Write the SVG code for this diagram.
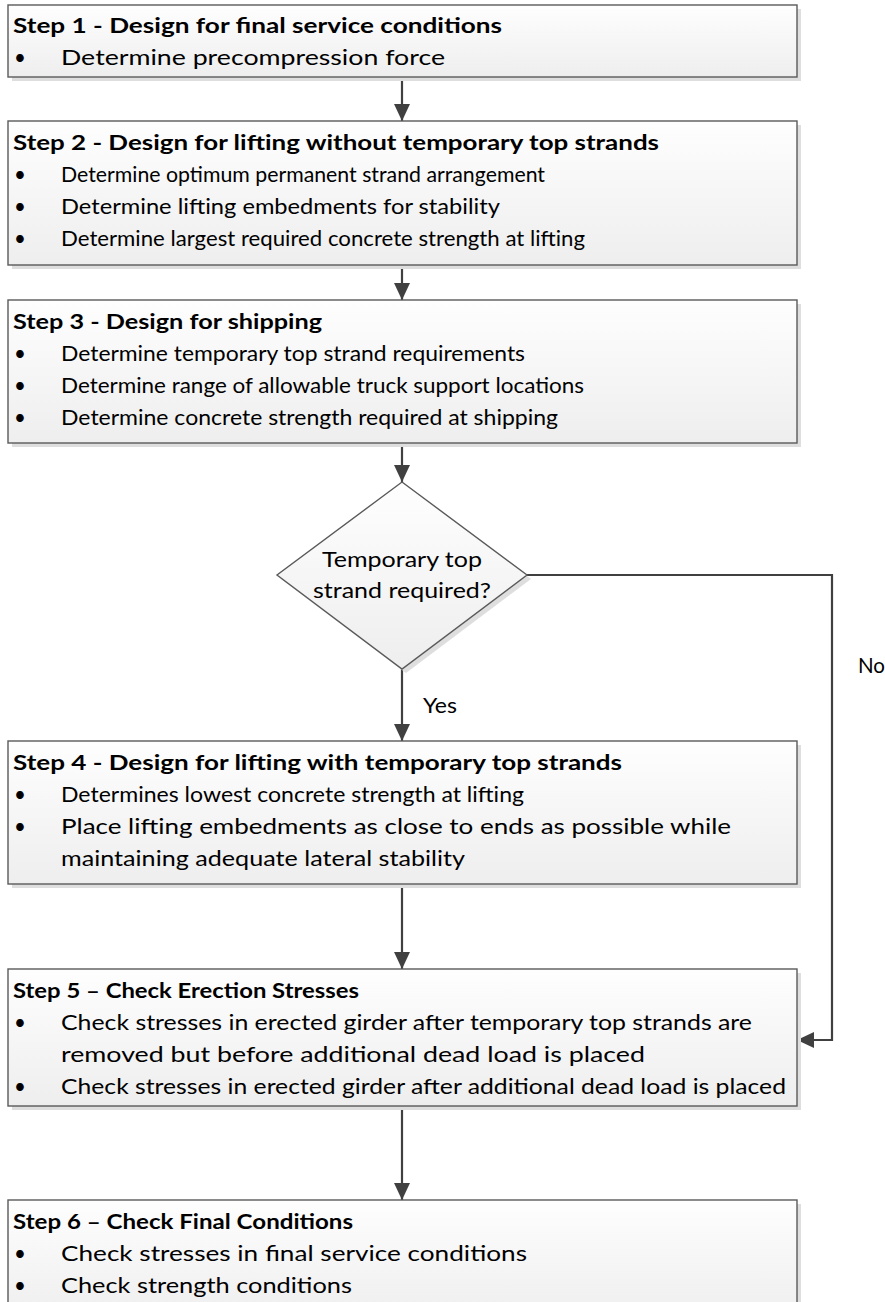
<svg xmlns="http://www.w3.org/2000/svg" width="885" height="1302" viewBox="0 0 885 1302">
<defs>
<linearGradient id="g" x1="0" y1="0" x2="0" y2="1">
<stop offset="0" stop-color="#fefefe"/>
<stop offset="1" stop-color="#eeeeee"/>
</linearGradient>
<marker id="ah" markerUnits="userSpaceOnUse" markerWidth="18" markerHeight="18" viewBox="0 0 18 18" refX="17" refY="9" orient="auto">
<path d="M0,1 L17,9 L0,17 Z" fill="#404040"/>
</marker>
</defs>
<style>
.sh{fill:#dedede}
.bx{fill:url(#g);stroke:#5a5a5a;stroke-width:1.4}
.t{font-family:Lato,"Liberation Sans",sans-serif;font-size:20.5px;fill:#000}
.b{font-weight:bold}
.c{stroke:#404040;stroke-width:2.2;fill:none}
</style>
<rect width="885" height="1302" fill="#fff"/>

<g id="connectors">
<line class="c" x1="402" y1="77" x2="402" y2="121" marker-end="url(#ah)"/>
<line class="c" x1="402" y1="265" x2="402" y2="300" marker-end="url(#ah)"/>
<line class="c" x1="402" y1="443" x2="402" y2="482" marker-end="url(#ah)"/>
<line class="c" x1="402" y1="669" x2="402" y2="741" marker-end="url(#ah)"/>
<line class="c" x1="402" y1="884" x2="402" y2="969" marker-end="url(#ah)"/>
<line class="c" x1="402" y1="1106" x2="402" y2="1200" marker-end="url(#ah)"/>
<polyline class="c" points="527,575 832,575 832,1040 797,1040" marker-end="url(#ah)"/>
<text class="t" x="423" y="713" textLength="34" lengthAdjust="spacingAndGlyphs">Yes</text>
<text class="t" x="858" y="673">No</text>
</g>

<g id="step1">
<rect class="sh" x="12" y="9" width="789" height="72"/>
<rect class="bx" x="8" y="5" width="789" height="72"/>
<text class="t b" x="13" y="33" textLength="489" lengthAdjust="spacingAndGlyphs">Step 1 - Design for final service conditions</text>
<text class="t" x="14" y="65">•</text>
<text class="t" x="61" y="65" textLength="384" lengthAdjust="spacingAndGlyphs">Determine precompression force</text>
</g>

<g id="step2">
<rect class="sh" x="12" y="125" width="789" height="144"/>
<rect class="bx" x="8" y="121" width="789" height="144"/>
<text class="t b" x="13" y="150" textLength="646" lengthAdjust="spacingAndGlyphs">Step 2 - Design for lifting without temporary top strands</text>
<text class="t" x="14" y="182">•</text>
<text class="t" x="61" y="182" textLength="484" lengthAdjust="spacingAndGlyphs">Determine optimum permanent strand arrangement</text>
<text class="t" x="14" y="214">•</text>
<text class="t" x="61" y="214" textLength="439" lengthAdjust="spacingAndGlyphs">Determine lifting embedments for stability</text>
<text class="t" x="14" y="246">•</text>
<text class="t" x="61" y="246" textLength="524" lengthAdjust="spacingAndGlyphs">Determine largest required concrete strength at lifting</text>
</g>

<g id="step3">
<rect class="sh" x="12" y="304" width="789" height="143"/>
<rect class="bx" x="8" y="300" width="789" height="143"/>
<text class="t b" x="13" y="329" textLength="309" lengthAdjust="spacingAndGlyphs">Step 3 - Design for shipping</text>
<text class="t" x="14" y="361">•</text>
<text class="t" x="61" y="361" textLength="464" lengthAdjust="spacingAndGlyphs">Determine temporary top strand requirements</text>
<text class="t" x="14" y="393">•</text>
<text class="t" x="61" y="393" textLength="523" lengthAdjust="spacingAndGlyphs">Determine range of allowable truck support locations</text>
<text class="t" x="14" y="425">•</text>
<text class="t" x="61" y="425" textLength="497" lengthAdjust="spacingAndGlyphs">Determine concrete strength required at shipping</text>
</g>

<g id="decision">
<polygon class="sh" points="406,486 531,579 406,673 281,579"/>
<polygon class="bx" points="402,482 527,575 402,669 277,575"/>
<text class="t" x="402" y="567" text-anchor="middle" textLength="160" lengthAdjust="spacingAndGlyphs">Temporary top</text>
<text class="t" x="402" y="598" text-anchor="middle" textLength="178" lengthAdjust="spacingAndGlyphs">strand required?</text>
</g>

<g id="step4">
<rect class="sh" x="12" y="745" width="789" height="143"/>
<rect class="bx" x="8" y="741" width="789" height="143"/>
<text class="t b" x="13" y="770" textLength="609" lengthAdjust="spacingAndGlyphs">Step 4 - Design for lifting with temporary top strands</text>
<text class="t" x="14" y="802">•</text>
<text class="t" x="61" y="802" textLength="463" lengthAdjust="spacingAndGlyphs">Determines lowest concrete strength at lifting</text>
<text class="t" x="14" y="834">•</text>
<text class="t" x="61" y="834" textLength="670" lengthAdjust="spacingAndGlyphs">Place lifting embedments as close to ends as possible while</text>
<text class="t" x="61" y="866" textLength="404" lengthAdjust="spacingAndGlyphs">maintaining adequate lateral stability</text>
</g>

<g id="step5">
<rect class="sh" x="12" y="973" width="789" height="137"/>
<rect class="bx" x="8" y="969" width="789" height="137"/>
<text class="t b" x="13" y="998" textLength="346" lengthAdjust="spacingAndGlyphs">Step 5 – Check Erection Stresses</text>
<text class="t" x="14" y="1030">•</text>
<text class="t" x="61" y="1030" textLength="691" lengthAdjust="spacingAndGlyphs">Check stresses in erected girder after temporary top strands are</text>
<text class="t" x="61" y="1062" textLength="584" lengthAdjust="spacingAndGlyphs">removed but before additional dead load is placed</text>
<text class="t" x="14" y="1094">•</text>
<text class="t" x="61" y="1094" textLength="725" lengthAdjust="spacingAndGlyphs">Check stresses in erected girder after additional dead load is placed</text>
</g>

<g id="step6">
<rect class="sh" x="12" y="1204" width="789" height="120"/>
<rect class="bx" x="8" y="1200" width="789" height="120"/>
<text class="t b" x="13" y="1229" textLength="340" lengthAdjust="spacingAndGlyphs">Step 6 – Check Final Conditions</text>
<text class="t" x="14" y="1261">•</text>
<text class="t" x="61" y="1261" textLength="466" lengthAdjust="spacingAndGlyphs">Check stresses in final service conditions</text>
<text class="t" x="14" y="1293">•</text>
<text class="t" x="61" y="1293" textLength="291" lengthAdjust="spacingAndGlyphs">Check strength conditions</text>
</g>
</svg>
